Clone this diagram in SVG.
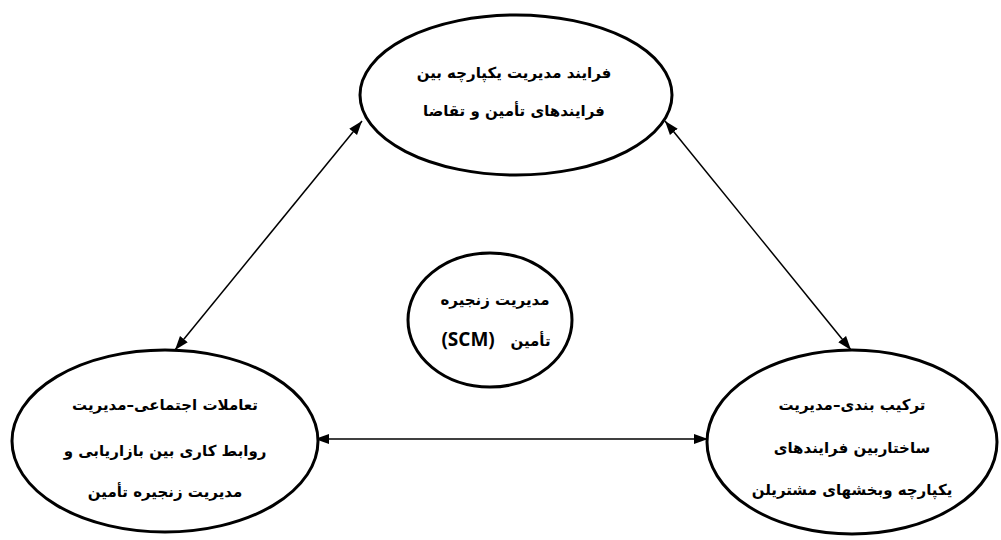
<svg xmlns="http://www.w3.org/2000/svg" width="1001" height="540" viewBox="0 0 1001 540">
<style>
.node{fill:#fff;stroke:#000;stroke-width:3}
.t{font-family:"DejaVu Sans",sans-serif;font-weight:bold;font-size:15px;text-anchor:middle;direction:rtl;fill:#000}
.lat{font-family:"Open Sans","Liberation Sans",sans-serif;font-size:19px;font-weight:bold}
.c{stroke:#000;stroke-width:1.5;fill:none;marker-start:url(#ah);marker-end:url(#ah)}
</style>
<defs>
<marker id="ah" markerUnits="userSpaceOnUse" markerWidth="14" markerHeight="12" refX="14" refY="5" orient="auto-start-reverse" viewBox="0 0 14 10">
<path d="M0,0 L14,5 L0,10 z" fill="#000"/>
</marker>
</defs>
<rect width="1001" height="540" fill="#fff"/>
<g id="connectors">
<line class="c" x1="175" y1="350" x2="362" y2="121"/>
<line class="c" x1="665" y1="121" x2="851" y2="350"/>
<line class="c" x1="315" y1="439" x2="708" y2="439"/>
</g>
<g id="top">
<ellipse class="node" cx="516" cy="95" rx="156" ry="80"/>
<text class="t" x="514" y="78">فرایند مدیریت یکپارچه بین</text>
<text class="t" x="514" y="116">فرایندهای تأمین و تقاضا</text>
</g>
<g id="center">
<ellipse class="node" cx="490" cy="320" rx="82" ry="67"/>
<text class="t" x="495" y="305">مدیریت زنجیره</text>
<text class="t" x="496" y="346" xml:space="preserve">تأمین   <tspan class="lat">(SCM)</tspan></text>
</g>
<g id="left">
<ellipse class="node" cx="165" cy="441" rx="153" ry="91"/>
<text class="t" x="165" y="410">تعاملات اجتماعی–مدیریت</text>
<text class="t" x="165" y="456">روابط کاری بین بازاریابی و</text>
<text class="t" x="165" y="497">مدیریت زنجیره تأمین</text>
</g>
<g id="right">
<ellipse class="node" cx="852" cy="442" rx="145" ry="92"/>
<text class="t" x="852" y="410">ترکیب بندی–مدیریت</text>
<text class="t" x="852" y="453">ساختاربین فرایندهای</text>
<text class="t" x="852" y="495">یکپارچه وبخشهای مشتریلن</text>
</g>
</svg>
